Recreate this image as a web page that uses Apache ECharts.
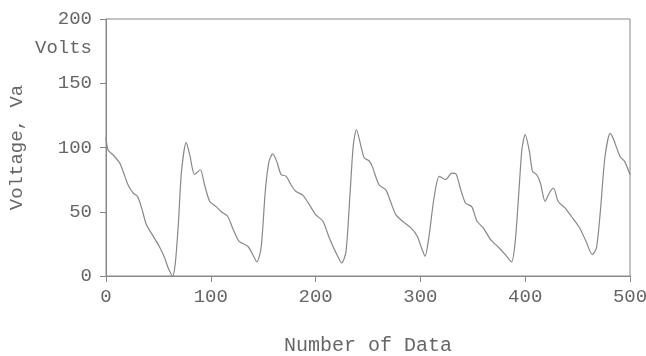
<!DOCTYPE html>
<html>
<head>
<meta charset="utf-8">
<script src="https://cdn.jsdelivr.net/npm/echarts@6/dist/echarts.min.js"></script>
<style>
  html, body { margin: 0; padding: 0; background: #fff; }
  #chart { width: 646px; height: 356px; }
</style>
</head>
<body>
<div id="chart"></div>
<script>
// sample index (x) and voltage (y)
const sampleIndex = [
  0, 2, 7, 13, 16.5, 21, 26, 30, 34, 38.5, 45, 51.5, 56, 59.5, 63.5, 66, 69, 72, 76.5, 80,
  84.5, 90, 94, 99, 105, 110, 116, 121, 127, 135.5, 140, 144, 148, 152, 155.5, 159, 163, 167, 172, 176.5,
  181, 188, 194, 200, 207, 213, 219.5, 225, 229, 233, 236, 239, 243, 246.5, 251, 254, 260.5, 267, 271.5, 276.5,
  283, 291, 297, 301, 304.5, 308, 313, 318, 324, 330, 334, 338, 343, 349, 354, 360, 367, 375, 381, 387,
  390.5, 394, 397, 400, 404, 407, 411, 414.5, 419, 423, 427, 431.5, 438, 444, 452, 458, 464, 468, 472, 476,
  481, 484, 490.5, 495, 500
];
const voltage = [
  108, 98, 94, 88, 81, 71, 64.5, 62, 53, 40, 31, 22, 14, 6, 0, 9, 40, 81, 104, 94,
  79, 82.7, 71, 58, 54, 50, 46.5, 37, 27, 23, 16.7, 11, 22, 66, 89, 95, 89, 79, 77.5, 71,
  66, 62.8, 55.5, 47.8, 42.6, 29.7, 18, 10.2, 19, 66, 102, 114, 102, 91.8, 89.7, 85.3, 71, 67, 58, 47.8,
  42.6, 37.4, 31, 22, 15.4, 29.7, 60.7, 77.5, 75, 80, 79.4, 68.5, 56.8, 54, 42.6, 37.4, 28.3, 22, 16.7, 11,
  27, 66, 99.6, 110, 97, 81.4, 78.8, 72.4, 58, 64.6, 68.5, 58, 53, 46.5, 37.4, 27, 16.7, 21.9, 53, 91.8,
  111, 107, 93, 89, 78.8
];
const xTicks = [0, 100, 200, 300, 400, 500];
const yTicks = [0, 50, 100, 150, 200];

const FONT = "'Liberation Mono', 'DejaVu Sans Mono', monospace";
const TEXT = "#666";
const LINE = "#888";

const chart = echarts.init(document.getElementById("chart"));

chart.setOption({
  backgroundColor: "#fff",
  animation: false,
  grid: {
    left: 106,
    right: 16,
    top: 19,
    bottom: 80,
    containLabel: false,
    outerBoundsMode: "none",
    show: true,
    borderColor: LINE,
    borderWidth: 1
  },
  xAxis: {
    type: "value",
    min: xTicks[0],
    max: xTicks[xTicks.length - 1],
    interval: 100,
    name: "Number of Data",
    nameLocation: "middle",
    nameGap: 60,
    nameTextStyle: { fontFamily: FONT, fontSize: 20, color: TEXT },
    axisLine: { show: true, lineStyle: { color: LINE } },
    axisTick: { show: true, length: 6, lineStyle: { color: LINE } },
    axisLabel: { fontFamily: FONT, fontSize: 19, color: TEXT, margin: 11 },
    splitLine: { show: false }
  },
  yAxis: {
    type: "value",
    min: yTicks[0],
    max: yTicks[yTicks.length - 1],
    interval: 50,
    name: "Voltage, Va",
    nameLocation: "middle",
    nameGap: 80,
    nameTextStyle: { fontFamily: FONT, fontSize: 19, color: TEXT },
    axisLine: { show: true, lineStyle: { color: LINE } },
    axisTick: { show: true, length: 6, lineStyle: { color: LINE } },
    axisLabel: { fontFamily: FONT, fontSize: 19, color: TEXT, margin: 14 },
    splitLine: { show: false }
  },
  graphic: [
    {
      type: "text",
      left: 35,
      top: 38,
      style: { text: "Volts", font: "19px " + FONT, fill: TEXT }
    }
  ],
  series: [
    {
      type: "line",
      data: sampleIndex.map((x, i) => [x, voltage[i]]),
      smooth: 0.25,
      showSymbol: false,
      lineStyle: { color: LINE, width: 1.2 }
    }
  ]
});
</script>
</body>
</html>
